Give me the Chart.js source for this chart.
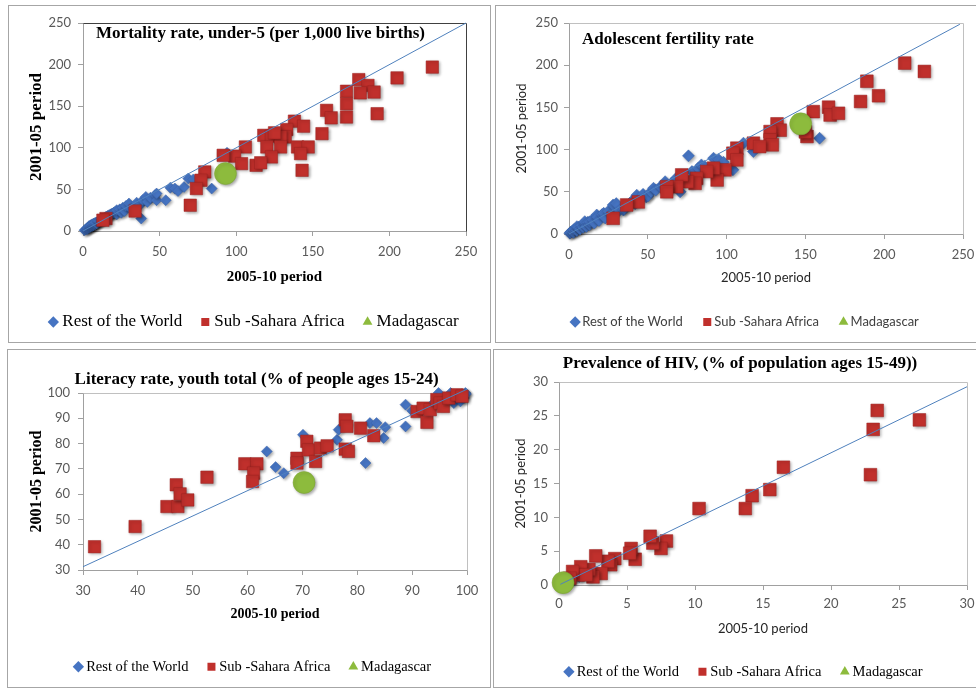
<!DOCTYPE html>
<html><head><meta charset="utf-8">
<script src="https://cdn.jsdelivr.net/npm/chart.js@4.4.1/dist/chart.umd.min.js"></script>
<style>
html,body{margin:0;padding:0;background:#fff;width:976px;height:690px;overflow:hidden;}
.panel{position:absolute;border:1px solid #a6a6a6;box-sizing:border-box;}
.panel canvas{position:absolute;left:0;top:0;}
</style></head><body>
<div class="panel" style="left:8px;top:5px;width:483px;height:338px"><canvas id="c1" width="481" height="336"></canvas></div>
<div class="panel" style="left:495px;top:5px;width:482px;height:338px"><canvas id="c2" width="494" height="336"></canvas></div>
<div class="panel" style="left:7px;top:349px;width:484px;height:339px"><canvas id="c3" width="482" height="337"></canvas></div>
<div class="panel" style="left:493px;top:349px;width:484px;height:339px"><canvas id="c4" width="496" height="340"></canvas></div>
<script>
// ---------- DATA ----------
const seriesNames = ['Rest of the World', 'Sub -Sahara Africa', 'Madagascar'];
const xAxisLabel = '2005-10 period';
const yAxisLabel = '2001-05 period';

// Mortality rate, under-5
const mortTicks = [0, 50, 100, 150, 200, 250];
const mortRest = [[1,1],[2,2],[3,2.5],[3,4],[4,4],[4,6],[5,5],[5,7],[6,6],[6,8],[7,7],[7,9],[8,8],[8,10],[9,9],[10,11],[10,12],[11,12],[12,13],[12,15],[13,14],[14,16],[15,17],[16,18],[17,19],[18,20],[19,21],[20,22],[21,23],[22,20],[22,25],[24,26],[25,22],[26,28],[27,24],[28,30],[30,33],[31,27],[33,29],[35,34],[37,31],[38,15],[39,37],[41,41],[42,35],[44,40],[47,43],[48,37],[48,45],[54,37],[57,52],[60,51],[62,48],[66,53],[68.7,63],[72,62],[84,51],[94,94]];
const mortSSA = [[228,197],[205,184],[180,182],[186,175],[172,168],[181,166],[190,167],[172,153],[192,141],[172,137],[159,145],[162,136],[156,117],[138,132],[144,126],[133,122],[132,113],[118,115],[123,114],[129,113],[125,118],[120,101],[129,101],[123,89],[140,101],[147,101],[142,93],[143,73],[113,79],[116,82],[106,101],[99,90],[91.5,91],[103.5,81],[79.5,71],[77,61],[74,51],[70,31],[34,24],[15,15],[13,13]];
const mortMada = [[93,69]];
const mortLine = [[0,0],[250,250]];

// Adolescent fertility rate
const fertTicks = [0, 50, 100, 150, 200, 250];
const fertRest = [[0.5,1],[1,2],[2,3],[3,2],[3,5],[4,6],[5,4],[5,8.7],[6,8],[7,6],[8,10],[9,8],[10,12],[10,14.6],[11,9],[12,14],[13,11],[13.3,14.6],[15,17],[16,13],[17.6,22.5],[18,20],[19,16],[21,23],[22,24.5],[23,19],[25,27],[27,24],[28,34.4],[30,36],[32,28],[34.5,28.5],[35,30],[38.7,36.4],[40,39],[42,36],[43,46],[45,42],[47,47],[49,44],[50,45],[52,50],[53.6,54.2],[55,52],[58,56],[60,58],[61,62],[65,60],[68,66],[70.5,50],[72,68],[72.6,64],[75.8,92.6],[78,74],[82,78],[84,81.9],[86,80],[91.7,89.8],[95,88],[98,85],[104,76],[110.7,107.6],[117,97.7],[159,113.5]];
const fertSSA = [[213,202.5],[225.5,192.6],[189,181],[185,157],[196.4,163.8],[164.7,150.3],[165.7,141],[171,143],[155,145],[151,115.5],[150,121],[132,130.5],[134,123],[127.6,121.4],[127.6,111.5],[129,105.6],[117,107.6],[121,103.6],[106.5,101.7],[104,95.7],[106.5,87.8],[99,76],[94,64],[91.7,78],[87.4,74],[81,66],[80,60],[75,62],[71.5,70],[68.4,56],[62,56],[62,50],[44,38],[36.6,34.4],[28,18.6]];
const fertMada = [[147,130.5]];
const fertLine = [[0,0],[248,248.5]];

// Literacy rate, youth total
const litTicks = [30, 40, 50, 60, 70, 80, 90, 100];
const litRest = [[63.5,76.9],[65.1,70.7],[66.6,68.3],[70.1,83.5],[76.3,81.5],[76.6,85.5],[81.5,72.3],[82.3,88.1],[83.5,88.1],[84.8,82.2],[85.1,86.5],[88.8,95.4],[88.8,86.8],[90,93],[93.9,96],[94.8,100],[95.5,98.3],[96,97],[97,100],[97.5,98.5],[97.6,96],[98,99],[98.8,96.7],[99,99.5],[99.4,98],[99.7,100],[99.8,99.6]];
const litSSA = [[32.1,39.2],[39.5,47.2],[45.3,55.1],[47.3,55.1],[47,63.7],[47.7,60.1],[49.1,57.7],[52.6,66.7],[59.5,72],[61.7,72],[61.1,68.3],[60.9,65],[69,74.2],[69,72.3],[70.8,80.9],[71.1,77.5],[72.4,72.9],[73.3,78.2],[74.5,79.1],[77.8,89.4],[78.1,86.8],[77.8,77.8],[78.4,76.9],[80.6,86.1],[83,83.1],[90.9,92.7],[92,94],[92.7,88.4],[93.3,93.4],[94.5,97.4],[95.1,96],[95.7,94.7],[96.7,98],[98.2,99.3],[99.1,98.7]];
const litMada = [[70.3,64.6]];
const litLine = [[30,31.3],[100,101.5]];

// Prevalence of HIV
const hivTicks = [0, 5, 10, 15, 20, 25, 30];
const hivRest = [[0.1,0.1],[0.1,0.2],[0.2,0.2],[0.3,0.2],[0.4,0.3],[0.5,0.4],[0.8,0.7],[1,0.9],[1.5,1.2]];
const hivSSA = [[23.4,25.8],[23.1,23],[26.5,24.4],[22.9,16.3],[16.5,17.4],[15.5,14.1],[14.2,13.2],[13.7,11.3],[10.3,11.3],[7.9,6.5],[7.5,5.4],[6.9,6.2],[6.7,7.2],[5.6,3.8],[5.3,5.4],[5.2,4.7],[4.1,3.9],[3.8,3],[3.6,3.5],[2.7,4.3],[3.1,1.7],[2.5,1.2],[2.2,2.3],[1.6,2.7],[1.4,1.5],[1,2],[2,1.5],[0.8,1]];
const hivMada = [[0.3,0.35]];
const hivLine = [[0.1,0.1],[30,29.3]];

// ---------- STYLE ----------
const SERIF = "'Liberation Serif','Times New Roman',serif";
const SANS = "Lato,'Open Sans',sans-serif";
const BLUE = '#4674C2', RED = '#C0302C', GREEN = '#8DBB3D', LINE = '#4F81BD', AXIS = '#a0a0a0';

const panelTitle = {
  id: 'panelTitle',
  afterDraw(chart, args, o) {
    const ctx = chart.ctx;
    ctx.save();
    ctx.font = o.font; ctx.fillStyle = o.color || '#000';
    ctx.textAlign = 'center'; ctx.textBaseline = 'middle';
    ctx.fillText(o.text, o.x, o.y);
    ctx.restore();
  }
};
const plotFrame = {
  id: 'plotFrame',
  beforeDatasetsDraw(chart, args, o) {
    const a = chart.chartArea, ctx = chart.ctx;
    const l = Math.round(a.left) + 0.5, t = Math.round(a.top) + 0.5, r = Math.round(a.right) + 0.5, b = Math.round(a.bottom) + 0.5;
    ctx.save(); ctx.strokeStyle = o.color; ctx.lineWidth = 1;
    ctx.beginPath(); ctx.moveTo(l, t); ctx.lineTo(r, t); ctx.lineTo(r, b); ctx.stroke();
    ctx.restore();
  }
};
const markerShadow = {
  id: 'markerShadow',
  beforeDatasetDraw(chart, args) {
    if (args.index === 0) return;
    const ctx = chart.ctx; ctx.save();
    ctx.shadowColor = 'rgba(0,0,0,0.35)'; ctx.shadowBlur = 3; ctx.shadowOffsetX = 1.5; ctx.shadowOffsetY = 1.5;
  },
  afterDatasetDraw(chart, args) {
    if (args.index === 0) return;
    chart.ctx.restore();
  }
};

const xy = arr => arr.map(p => ({x: p[0], y: p[1]}));

function makeChart(id, c) {
  const datasets = [
    {label: 'line', data: xy(c.line), showLine: true, borderColor: LINE, borderWidth: 1, pointRadius: 0, clip: false},
    {label: seriesNames[2], data: xy(c.mada), pointStyle: 'circle', pointRadius: c.madaR, backgroundColor: GREEN, borderColor: '#78a030', borderWidth: 0.5, clip: false},
    {label: seriesNames[1], data: xy(c.ssa), pointStyle: 'rect', pointRadius: c.ssaR, backgroundColor: RED, borderColor: '#9a2320', borderWidth: 0.5, clip: false},
    {label: seriesNames[0], data: xy(c.rest), pointStyle: 'rectRot', pointRadius: c.restR, backgroundColor: BLUE, borderColor: '#3862aa', borderWidth: 0.5, clip: false}
  ];
  const tickOpts = pad => ({font: {family: SANS, size: 13}, color: '#595959', padding: pad, maxRotation: 0, autoSkip: false, callback: v => String(v)});
  new Chart(document.getElementById(id), {
    type: 'scatter',
    data: {datasets},
    plugins: [panelTitle, plotFrame, markerShadow],
    options: {
      responsive: false, animation: false, events: [],
      layout: {padding: {left: c.padL, right: 0, top: c.padT, bottom: c.padB}},
      scales: {
        x: {
          type: 'linear', min: c.ticks[0], max: c.ticks[c.ticks.length - 1],
          afterBuildTicks: s => { s.ticks = c.ticks.map(v => ({value: v})); },
          afterFit: s => { s.height = c.xH; },
          ticks: tickOpts(c.xTickPad),
          grid: {drawOnChartArea: false, drawTicks: true, tickLength: 5, color: AXIS},
          border: {color: AXIS},
          title: {display: true, text: xAxisLabel, font: c.xTitleFont, color: c.axisColor, padding: {top: 0, bottom: c.xTitlePb}}
        },
        y: {
          type: 'linear', min: c.ticks[0], max: c.ticks[c.ticks.length - 1],
          afterBuildTicks: s => { s.ticks = c.ticks.map(v => ({value: v})); },
          afterFit: s => { s.width = c.yW; },
          ticks: tickOpts(c.yTickPad),
          grid: {drawOnChartArea: false, drawTicks: true, tickLength: 5, color: AXIS},
          border: {color: AXIS},
          title: {display: true, text: yAxisLabel, font: c.yTitleFont, color: c.axisColor, padding: {top: c.yTitlePt, bottom: 0}}
        },
        yR: {
          type: 'linear', position: 'right', display: true,
          afterFit: s => { s.width = c.rightW; },
          ticks: {display: false}, grid: {display: false}, border: {display: false}, title: {display: false}
        }
      },
      plugins: {
        tooltip: {enabled: false},
        title: {display: false},
        panelTitle: c.title,
        plotFrame: {color: c.frame},
        legend: {
          position: 'bottom',
          labels: {
            usePointStyle: true, boxWidth: 1, boxHeight: 8, padding: c.legendPad,
            font: c.legendFont, color: c.legendColor,
            generateLabels(chart) {
              const items = Chart.defaults.plugins.legend.labels.generateLabels(chart);
              return items.filter(i => i.datasetIndex > 0).reverse().map(i => {
                if (i.text === seriesNames[2]) i.pointStyle = 'triangle';
                i.lineWidth = 0; i.strokeStyle = i.fillStyle;
                return i;
              });
            }
          }
        }
      }
    }
  });
}

makeChart('c1', {
  rest: mortRest, ssa: mortSSA, mada: mortMada, line: mortLine, ticks: mortTicks,
  restR: 5.5, ssaR: 8.8, madaR: 11,
  padL: 12.5, padT: 17, padB: 1.5, yW: 61.5, rightW: 24, xH: 60,
  xTickPad: 8.2, yTickPad: 7,
  xTitleFont: {family: SERIF, size: 15, weight: 'bold', lineHeight: 1.2}, xTitlePb: 5.3,
  yTitleFont: {family: SERIF, size: 17, weight: 'bold', lineHeight: 1.2}, yTitlePt: 5.3,
  axisColor: '#000',
  legendFont: {family: SERIF, size: 17}, legendColor: '#000', legendPad: 22.5,
  title: {text: 'Mortality rate, under-5 (per 1,000 live births)', x: 251.5, y: 27.3, font: "bold 17px " + SERIF, color: '#000'},
  frame: '#404040'
});
makeChart('c2', {
  rest: fertRest, ssa: fertSSA, mada: fertMada, line: fertLine, ticks: fertTicks,
  restR: 6, ssaR: 9, madaR: 11,
  padL: 7.5, padT: 17, padB: 3.5, yW: 65.5, rightW: 27, xH: 57.5,
  xTickPad: 8.2, yTickPad: 6,
  xTitleFont: {family: SANS, size: 13, lineHeight: 1.2}, xTitlePb: 5.7,
  yTitleFont: {family: SANS, size: 13, lineHeight: 1.2}, yTitlePt: 10.7,
  axisColor: '#262626',
  legendFont: {family: SANS, size: 13}, legendColor: '#404040', legendPad: 24,
  title: {text: 'Adolescent fertility rate', x: 172, y: 34, font: "bold 17px " + SERIF, color: '#000'},
  frame: '#c0c0c0'
});
makeChart('c3', {
  rest: litRest, ssa: litSSA, mada: litMada, line: litLine, ticks: litTicks,
  restR: 5.5, ssaR: 8.8, madaR: 11,
  padL: 11, padT: 43, padB: 3, yW: 64, rightW: 23, xH: 67,
  xTickPad: 8.2, yTickPad: 8,
  xTitleFont: {family: SERIF, size: 14, weight: 'bold', lineHeight: 1.2}, xTitlePb: 14.6,
  yTitleFont: {family: SERIF, size: 16, weight: 'bold', lineHeight: 1.2}, yTitlePt: 8.4,
  axisColor: '#000',
  legendFont: {family: SERIF, size: 14.5}, legendColor: '#000', legendPad: 22.5,
  title: {text: 'Literacy rate, youth total (% of people ages 15-24)', x: 248.6, y: 30, font: "bold 17px " + SERIF, color: '#000'},
  frame: '#c0c0c0'
});
makeChart('c4', {
  rest: hivRest, ssa: hivSSA, mada: hivMada, line: hivLine, ticks: hivTicks,
  restR: 5.5, ssaR: 9, madaR: 11,
  padL: 7, padT: 32, padB: 1, yW: 58, rightW: 23, xH: 56.5,
  xTickPad: 6.5, yTickPad: 6,
  xTitleFont: {family: SANS, size: 13, lineHeight: 1.2}, xTitlePb: 4.7,
  yTitleFont: {family: SANS, size: 13, lineHeight: 1.2}, yTitlePt: 12.2,
  axisColor: '#262626',
  legendFont: {family: SERIF, size: 14.5}, legendColor: '#000', legendPad: 23,
  title: {text: 'Prevalence of HIV, (% of population ages 15-49))', x: 246, y: 14, font: "bold 17px " + SERIF, color: '#000'},
  frame: '#c0c0c0'
});
</script>
</body></html>
